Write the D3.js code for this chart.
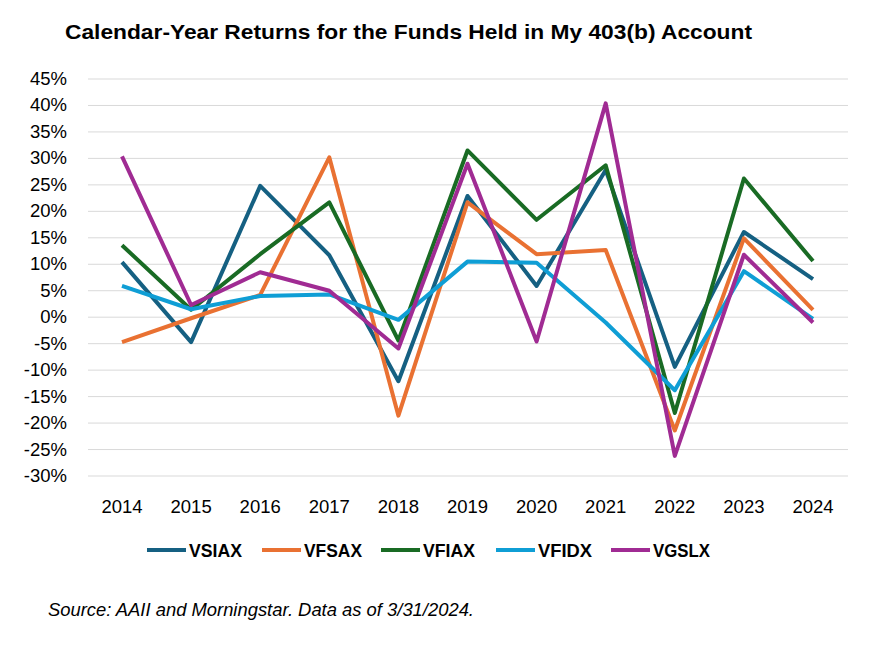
<!DOCTYPE html>
<html><head><meta charset="utf-8">
<script src="https://cdn.jsdelivr.net/npm/d3@7"></script>
<style>body{margin:0;background:#fff}text{font-family:"Liberation Sans",Arial,sans-serif}</style>
</head><body><svg id="c" width="876" height="656"></svg>
<script>
const years=["2014","2015","2016","2017","2018","2019","2020","2021","2022","2023","2024"];
const seriesNames=["VSIAX","VFSAX","VFIAX","VFIDX","VGSLX"];
const VSIAX=[10.4,-4.7,24.8,11.7,-12.1,22.9,5.9,27.8,-9.4,16.1,7.2];
const VFSAX=[-4.7,-0.2,4.2,30.2,-18.6,21.7,11.9,12.7,-21.4,14.9,1.4];
const VFIAX=[13.6,1.4,11.9,21.7,-4.4,31.5,18.4,28.7,-18.1,26.2,10.6];
const VFIDX=[5.9,1.5,4.0,4.3,-0.5,10.5,10.3,-1.0,-13.8,8.7,-0.3];
const VGSLX=[30.4,2.3,8.5,5.0,-5.9,29.0,-4.6,40.4,-26.2,11.8,-1.0];
const colors=["#156082","#E97132","#196B24","#0F9ED5","#A02B93"];
const ticks=d3.range(-30,50,5);
const data=[VSIAX,VFSAX,VFIAX,VFIDX,VGSLX];
const svg=d3.select("#c");
const x=d3.scalePoint().domain(years).range([122,813]);
const y=d3.scaleLinear().domain([-30,45]).range([476,79]);
svg.append("text").attr("x",65).attr("y",39).attr("font-size",21).attr("font-weight","bold").attr("fill","#000").attr("textLength",687).attr("lengthAdjust","spacingAndGlyphs").text("Calendar-Year Returns for the Funds Held in My 403(b) Account");
svg.append("g").selectAll("line").data(ticks).join("line").attr("x1",88).attr("x2",848).attr("y1",d=>y(d)).attr("y2",d=>y(d)).attr("stroke","#d9d9d9").attr("stroke-width",1);
svg.append("g").selectAll("text").data(ticks).join("text").attr("x",67).attr("y",d=>y(d)+6).attr("text-anchor","end").attr("font-size",18.5).attr("fill","#000").text(d=>d+"%");
svg.append("g").selectAll("text").data(years).join("text").attr("x",d=>x(d)).attr("y",513).attr("text-anchor","middle").attr("font-size",18.5).attr("fill","#000").text(d=>d);
const line=d3.line().x((d,i)=>x(years[i])).y(d=>y(d));
data.forEach((s,k)=>svg.append("path").attr("d",line(s)).attr("fill","none").attr("stroke",colors[k]).attr("stroke-width",4).attr("stroke-linejoin","round"));
const lx=[147,262,381,496,611], tl=[53,58,52,54,57];
seriesNames.forEach((n,k)=>{
 svg.append("line").attr("x1",lx[k]).attr("x2",lx[k]+39).attr("y1",550).attr("y2",550).attr("stroke",colors[k]).attr("stroke-width",4);
 svg.append("text").attr("x",lx[k]+42).attr("y",557).attr("font-size",19).attr("font-weight","bold").attr("textLength",tl[k]).attr("lengthAdjust","spacingAndGlyphs").text(n);
});
svg.append("text").attr("x",48).attr("y",616).attr("font-size",17.5).attr("font-style","italic").attr("textLength",426).attr("lengthAdjust","spacingAndGlyphs").text("Source: AAII and Morningstar. Data as of 3/31/2024.");
</script></body></html>
